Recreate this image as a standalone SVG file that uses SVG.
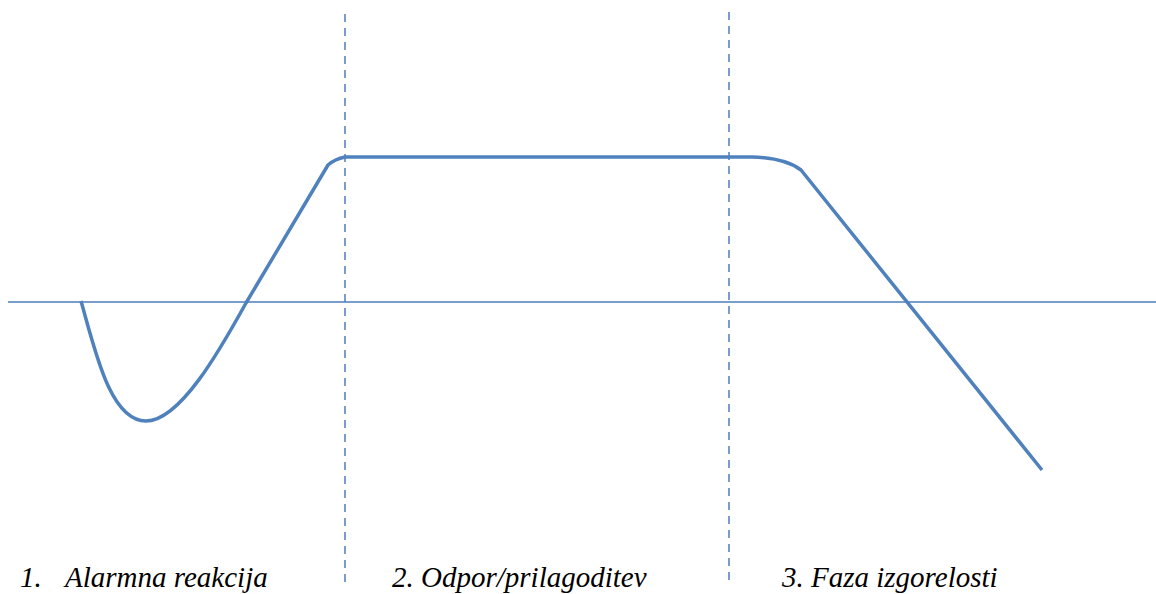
<svg xmlns="http://www.w3.org/2000/svg" width="1156" height="594" viewBox="0 0 1156 594">
<style>
.axis{stroke:#4a7ebb;stroke-width:1.5;fill:none}
.div{stroke:#4a7ebb;stroke-width:1.5;stroke-dasharray:8 6;fill:none}
.curve{stroke:#4f81bd;stroke-width:3.5;fill:none;stroke-linejoin:round}
.t{font-family:'Liberation Serif','Times New Roman',serif;font-style:italic;font-size:29px;fill:#000}
</style>
<rect width="1156" height="594" fill="#fff"/>
<g id="connectors">
<line class="axis" x1="8" y1="302" x2="1156" y2="302"/>
<line class="div" x1="345" y1="14" x2="345" y2="582"/>
<line class="div" x1="729" y1="12" x2="729" y2="582"/>
<path class="curve" d="M81,301 C95,350 110,421 146,421 C180,421 220,350 246,303 L328,165 Q335,159 345,157 L752,157 Q785,158 801,170 L1042,470"/>
</g>
<g id="label1"><text class="t" x="20" y="587">1.</text><text class="t" x="65" y="587">Alarmna reakcija</text></g>
<g id="label2"><text class="t" x="392" y="587">2. Odpor/prilagoditev</text></g>
<g id="label3"><text class="t" x="782" y="587">3. Faza izgorelosti</text></g>
</svg>
